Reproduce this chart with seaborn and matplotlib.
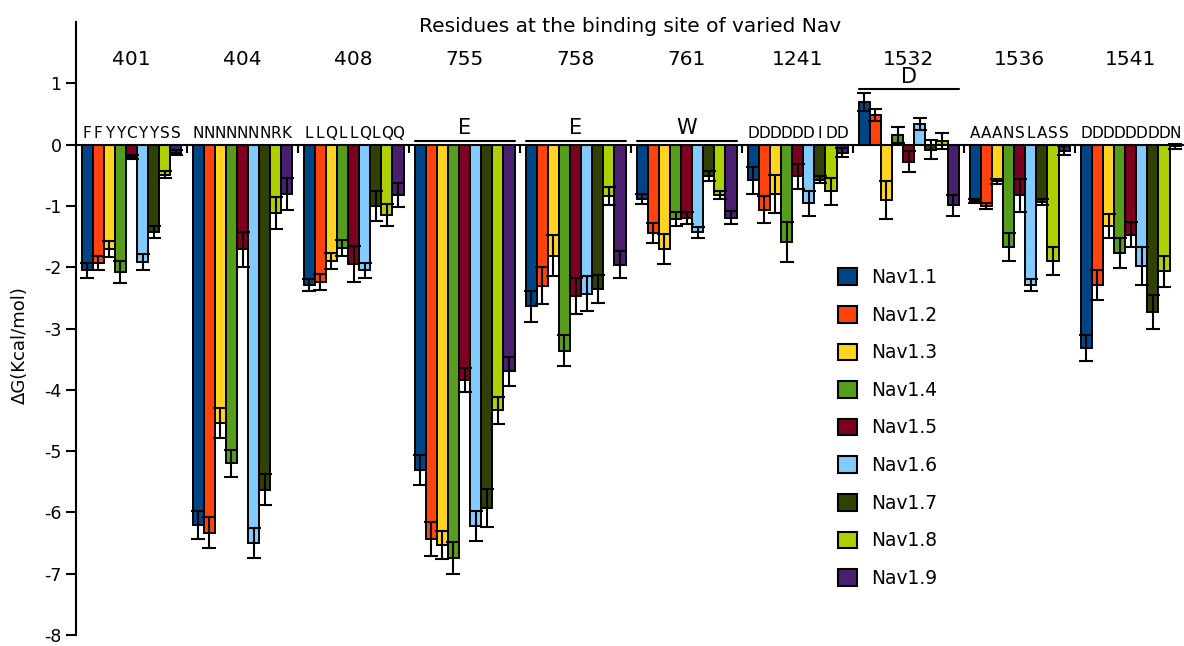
import numpy as np
import pandas as pd
import seaborn as sns
import matplotlib.pyplot as plt
from matplotlib.patches import Patch

sns.set_style("white")
plt.rcParams['font.family'] = ['DejaVu Sans']
plt.rcParams['axes.unicode_minus'] = False
plt.rcParams['text.color'] = 'black'
plt.rcParams['xtick.color'] = 'black'
plt.rcParams['ytick.color'] = 'black'

positions = ["401", "404", "408", "755", "758", "761", "1241", "1532", "1536", "1541"]
residues = ["FFYYCYYSS", "NNNNNNNRK", "LLQLLQLQQ", "E", "E", "W",
            "DDDDDDIDD", "D", "AAANSLASS", "DDDDDDDDN"]
isoforms = ["Nav1.1", "Nav1.2", "Nav1.3", "Nav1.4", "Nav1.5",
            "Nav1.6", "Nav1.7", "Nav1.8", "Nav1.9"]
colors = ["#004586", "#ff420e", "#ffd320", "#579d1c", "#7e0021",
          "#83caff", "#314004", "#aecf00", "#4b1f6f"]

# dG per isoform, one value per residue position
dg = [
    [-2.05, -6.20, -2.29, -5.31, -2.64, -0.89, -0.58, 0.69, -0.92, -3.32],
    [-1.93, -6.33, -2.24, -6.43, -2.30, -1.44, -1.06, 0.48, -1.00, -2.29],
    [-1.70, -4.54, -1.90, -6.53, -1.81, -1.70, -0.81, -0.90, -0.60, -1.33],
    [-2.08, -5.20, -1.68, -6.74, -3.36, -1.21, -1.59, 0.15, -1.67, -1.77],
    [-0.20, -1.71, -1.95, -3.84, -2.47, -1.20, -0.52, -0.28, -0.83, -1.47],
    [-1.92, -6.50, -2.05, -6.22, -2.43, -1.43, -0.96, 0.34, -2.29, -1.98],
    [-1.43, -5.63, -1.00, -5.93, -2.36, -0.51, -0.57, -0.08, -0.94, -2.73],
    [-0.49, -1.12, -1.15, -4.33, -0.84, -0.82, -0.76, 0.06, -1.90, -2.07],
    [-0.13, -0.81, -0.82, -3.70, -1.96, -1.19, -0.13, -0.99, -0.10, -0.03],
]
dg_err = [
    [0.12, 0.23, 0.10, 0.24, 0.25, 0.08, 0.22, 0.15, 0.04, 0.21],
    [0.12, 0.25, 0.13, 0.28, 0.30, 0.16, 0.22, 0.10, 0.05, 0.25],
    [0.13, 0.24, 0.13, 0.23, 0.34, 0.24, 0.31, 0.31, 0.04, 0.20],
    [0.18, 0.22, 0.13, 0.26, 0.25, 0.11, 0.32, 0.13, 0.23, 0.25],
    [0.03, 0.29, 0.29, 0.19, 0.29, 0.10, 0.20, 0.17, 0.27, 0.20],
    [0.13, 0.25, 0.12, 0.24, 0.28, 0.09, 0.21, 0.10, 0.10, 0.31],
    [0.10, 0.25, 0.24, 0.31, 0.23, 0.08, 0.05, 0.16, 0.05, 0.28],
    [0.06, 0.26, 0.18, 0.22, 0.15, 0.07, 0.22, 0.13, 0.23, 0.25],
    [0.04, 0.26, 0.20, 0.24, 0.22, 0.10, 0.07, 0.17, 0.07, 0.04],
]

rows = []
for i, iso in enumerate(isoforms):
    for j, pos in enumerate(positions):
        rows.append({"position": pos, "isoform": iso, "dG": dg[i][j]})
df = pd.DataFrame(rows)

W, H = 1184, 646
fig = plt.figure(figsize=(W / 100, H / 100), dpi=100)
ax = fig.add_axes([76 / W, 11 / H, 1 - 76 / W, (635 - 22) / H])

sns.barplot(data=df, x="position", y="dG", hue="isoform", order=positions,
            hue_order=isoforms, palette=colors, saturation=1, errorbar=None, width=0.9,
            edgecolor="black", linewidth=1.4, legend=False, ax=ax)

# error bars on top of every bar
bar_groups = list(ax.containers)
for i, cont in enumerate(bar_groups):
    xs = [b.get_x() + b.get_width() / 2 for b in cont]
    ys = [b.get_y() + b.get_height() for b in cont]
    ax.errorbar(xs, ys, yerr=dg_err[i], fmt="none", ecolor="black",
                elinewidth=1.5, capsize=5.2, capthick=1.5, zorder=5)

ax.set_xlim(-0.5, 9.48)
ax.set_ylim(-8, 2)
ax.set_yticks(range(-8, 2))
ax.set_xticks(np.arange(-0.5, 9.5, 1))
ax.set_xticklabels([])
ax.set_xlabel("")
ax.set_ylabel("")
for s in ["top", "right"]:
    ax.spines[s].set_visible(False)
ax.spines["bottom"].set_position(("data", 0))
ax.spines["left"].set_bounds(-8, 2)
for s in ["bottom", "left"]:
    ax.spines[s].set_linewidth(1.5)
    ax.spines[s].set_color("black")
ax.tick_params(axis="y", direction="out", length=7, width=1.5, labelsize=12.5, pad=3.5, left=True)
ax.tick_params(axis="x", direction="out", length=6, width=1.5, bottom=True)

# residue labels
offsets = (np.arange(9) - 4) * 0.1
for j, res in enumerate(residues):
    ax.text(j, 1.39, positions[j], ha="center", va="center", fontsize=14.5)
    if len(res) == 9:
        for k, ch in enumerate(res):
            ax.text(j + offsets[k], 0.1, ch, ha="center", va="baseline", fontsize=11)
    else:
        top = max(0, max(dg[i][j] + dg_err[i][j] for i in range(9))) + 0.06
        ax.plot([j - 0.45, j + 0.45], [top, top], color="black", lw=1.5, clip_on=False)
        ax.text(j, top + 0.04, res, ha="center", va="bottom", fontsize=15)

fig.text(630 / W, 1 - 27 / H, "Residues at the binding site of varied Nav",
         ha="center", va="center", fontsize=14.5)
fig.text(20 / W, 1 - 345 / H, "ΔG(Kcal/mol)", rotation=90, ha="center", va="center", fontsize=13)

handles = [Patch(facecolor=c, edgecolor="black", linewidth=1.5) for c in colors]
fig.legend(handles, isoforms, loc="upper left", bbox_to_anchor=(838 / W, 1 - 268 / H),
           frameon=False, fontsize=13.4, handlelength=1.0, handleheight=1.0,
           handletextpad=0.8, labelspacing=1.0, borderpad=0, borderaxespad=0)

fig.savefig("out.png", dpi=100)
